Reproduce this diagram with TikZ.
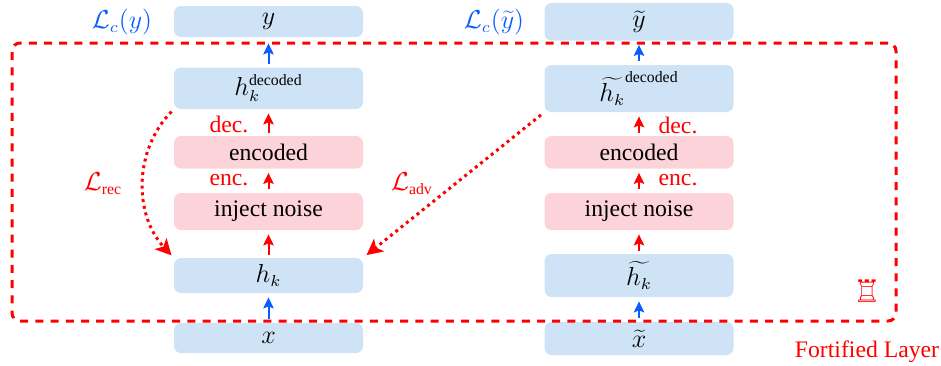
\documentclass[tikz,border=0pt]{standalone}
\usepackage{fix-cm}
\usepackage{fontspec}
\setmainfont{Liberation Serif}
\newfontfamily\symfont{DejaVu Sans}
\DeclareMathSizes{13}{13}{7.9}{6}
\usetikzlibrary{arrows.meta}
\definecolor{boxblue}{HTML}{CFE3F7}
\definecolor{boxpink}{HTML}{FCD3D9}
\definecolor{lossblue}{HTML}{0A5CFF}
\definecolor{fortred}{HTML}{FF0000}
\tikzset{
  box/.style={rounded corners=3.5pt,minimum width=94.5pt,inner sep=0pt,text=black},
  bluebox/.style={box,fill=boxblue,font=\fontsize{13}{15}\selectfont},
  pinkbox/.style={box,fill=boxpink},
  flow/.style={line width=1pt,-{Stealth[length=5.5pt,width=5.2pt,inset=1pt]}},
  redflow/.style={flow,fortred},
  blueflow/.style={flow,lossblue},
  lossarrow/.style={fortred,line width=1.5pt,dash pattern=on 1.5pt off 1.9pt,-{Stealth[length=8pt,width=8pt,inset=2pt]}},
  redlabel/.style={text=fortred,inner sep=0pt},
  bluelabel/.style={text=lossblue,inner sep=0pt},
  mathlabel/.style={font=\fontsize{13}{15}\selectfont},
}
\begin{document}
\begin{tikzpicture}[x=0.5pt,y=-0.5pt,font=\fontsize{11.85}{14}\selectfont]
\useasboundingbox (0,0) rectangle (941,365);
% left column
\node[bluebox,minimum height=15.5pt] (y) at (268.5,21.5) {$y$};
\node[bluebox,minimum height=20.75pt] (hd) at (268.5,88.25) {$h_k^{\mathrm{decoded}}$};
\node[pinkbox,minimum height=16.25pt] (enc) at (268.5,152.25) {encoded};
\node[pinkbox,minimum height=18.5pt] (inj) at (268.5,211.5) {inject noise};
\node[bluebox,minimum height=17.5pt] (h) at (268.5,275.5) {$h_k$};
\node[bluebox,minimum height=15pt] (x) at (268.5,338) {$x$};
% right column
\node[bluebox,minimum height=18.75pt] (yt) at (639,21.75) {$\widetilde{y}$};
\node[bluebox,minimum height=23.5pt] (hdt) at (639,88.5) {$\widetilde{h_k}^{\mathrm{decoded}}$};
\node[pinkbox,minimum height=16.25pt] (enct) at (639,152.25) {encoded};
\node[pinkbox,minimum height=18.5pt] (injt) at (639,211.5) {inject noise};
\node[bluebox,minimum height=21.5pt] (ht) at (639,275.5) {$\widetilde{h_k}$};
\node[bluebox,minimum height=16.5pt] (xt) at (639,338.5) {$\widetilde{x}$};
% fortified frame
\node[draw=fortred,line width=1.5pt,dash pattern=on 4pt off 3.6pt,rounded corners=4pt,minimum width=442pt,minimum height=139pt,inner sep=0pt] (fort) at (454,182) {};
% flow arrows
\draw[blueflow,shorten >=3pt,shorten <=1.75pt] (hd) -- (y);
\draw[redflow,shorten >=2pt,shorten <=1.5pt] (enc) -- (hd);
\draw[redflow,shorten >=2pt,shorten <=2pt] (inj) -- (enc);
\draw[redflow,shorten >=2pt,shorten <=1.5pt] (h) -- (inj);
\draw[blueflow,shorten >=2pt,shorten <=2pt] (x) -- (h);
\draw[blueflow,shorten >=2pt,shorten <=2pt] (hdt) -- (yt);
\draw[redflow,shorten >=2pt,shorten <=1.5pt] (enct) -- (hdt);
\draw[redflow,shorten >=2pt,shorten <=2pt] (injt) -- (enct);
\draw[redflow,shorten >=2pt,shorten <=1.5pt] (ht) -- (injt);
\draw[blueflow,shorten >=2pt,shorten <=2pt] (xt) -- (ht);
% loss arrows
\draw[lossarrow,shorten >=1.5pt,shorten <=1.5pt] (hd.south west) .. controls +(-40,41) and +(-40,-43) .. (h.north west);
\draw[lossarrow,shorten >=2pt,shorten <=2pt] (hdt.south west) -- (h.north east);
% labels
\node[bluelabel,mathlabel] (lc) at (122,22) {$\mathcal{L}_c(y)$};
\node[bluelabel,mathlabel] (lct) at (494,22) {$\mathcal{L}_c(\widetilde{y})$};
\node[redlabel,mathlabel] (lrec) at (103,184) {$\mathcal{L}_{\mathrm{rec}}$};
\node[redlabel,mathlabel] (ladv) at (412,184) {$\mathcal{L}_{\mathrm{adv}}$};
\node[redlabel] (d1) at (229,124) {dec.};
\node[redlabel] (e1) at (229,180) {enc.};
\node[redlabel] (d2) at (678,125) {dec.};
\node[redlabel] (e2) at (678,180) {enc.};
\node[redlabel,font=\symfont\fontsize{15.5}{16}\selectfont] (rook) at (867,291) {♖};
\node[redlabel,font=\fontsize{11.85}{14}\selectfont] (fl) at (867,352) {Fortified Layer};
\end{tikzpicture}
\end{document}
